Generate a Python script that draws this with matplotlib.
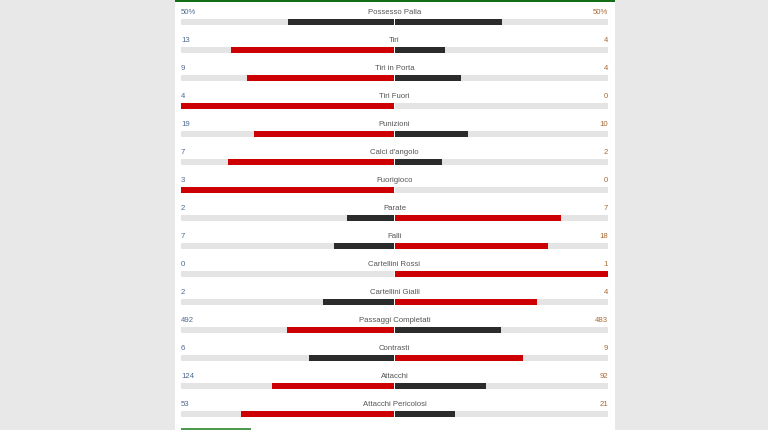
import matplotlib
matplotlib.use("Agg")
import matplotlib.pyplot as plt
from matplotlib.patches import Rectangle

# ── Data ──────────────────────────────────────────────────────────────────────
stats = ["Possesso Palla", "Tiri", "Tiri in Porta", "Tiri Fuori", "Punizioni",
         "Calci d'angolo", "Fuorigioco", "Parate", "Falli", "Cartellini Rossi",
         "Cartellini Gialli", "Passaggi Completati", "Contrasti", "Attacchi",
         "Attacchi Pericolosi"]
home = [50, 13, 9, 4, 19, 7, 3, 2, 7, 0, 2, 492, 6, 124, 53]
away = [50, 4, 4, 0, 10, 2, 0, 7, 18, 1, 4, 483, 9, 92, 21]
home_txt = ["50%"] + [str(v) for v in home[1:]]
away_txt = ["50%"] + [str(v) for v in away[1:]]

RED = "#cc0000"
DARK = "#2b2b2b"
TRACK = "#e4e4e4"
W, H = 768, 431

plt.rcParams["font.family"] = ["Liberation Sans", "DejaVu Sans"]

fig = plt.figure(figsize=(W / 100, H / 100), dpi=100, facecolor="#e8e8e8")

# white panel + green header strip + small green line at bottom
fig.patches.append(Rectangle((175 / W, 0), (615 - 175) / W, 1, transform=fig.transFigure,
                             facecolor="white", edgecolor="none", zorder=-2))
fig.patches.append(Rectangle((175 / W, 1 - 3 / H), (615 - 175) / W, 3 / H,
                             transform=fig.transFigure, facecolor="#146c14",
                             edgecolor="none", zorder=-1))
fig.patches.append(Rectangle((181 / W, 0), (251 - 181) / W, 2 / H,
                             transform=fig.transFigure, facecolor="#4e9a4e",
                             edgecolor="none", zorder=-1))

ax = fig.add_axes([181 / W, 0, (608 - 181) / W, 1])
ax.set_xlim(-1, 1)
ax.set_ylim(15.0 - 2 / 28, -13 / 28)
ax.axis("off")

fs = 5.6
gap = 1 / 427
bh = 6 / 28
off = 10 / 28

for i, (name, h, a) in enumerate(zip(stats, home, away)):
    tot = h + a
    fh = h / tot if tot else 0
    fa = a / tot if tot else 0
    col_h = RED if h > a else DARK
    col_a = RED if a > h else DARK
    y = i + off
    ax.barh(y, -1 + gap, left=-gap, height=bh, color=TRACK, zorder=1)
    ax.barh(y, 1 - gap, left=gap, height=bh, color=TRACK, zorder=1)
    if fh:
        ax.barh(y, -fh * (1 - gap), left=-gap, height=bh, color=col_h, zorder=2)
    if fa:
        ax.barh(y, fa * (1 - gap), left=gap, height=bh, color=col_a, zorder=2)
    ax.text(-1, i, home_txt[i], ha="left", va="center", fontsize=fs, color="#4f6a90")
    ax.text(1, i, away_txt[i], ha="right", va="center", fontsize=fs, color="#a86a35")
    ax.text(0, i, name, ha="center", va="center", fontsize=fs, color="#555555")

fig.savefig("out.png", dpi=100, facecolor=fig.get_facecolor())
